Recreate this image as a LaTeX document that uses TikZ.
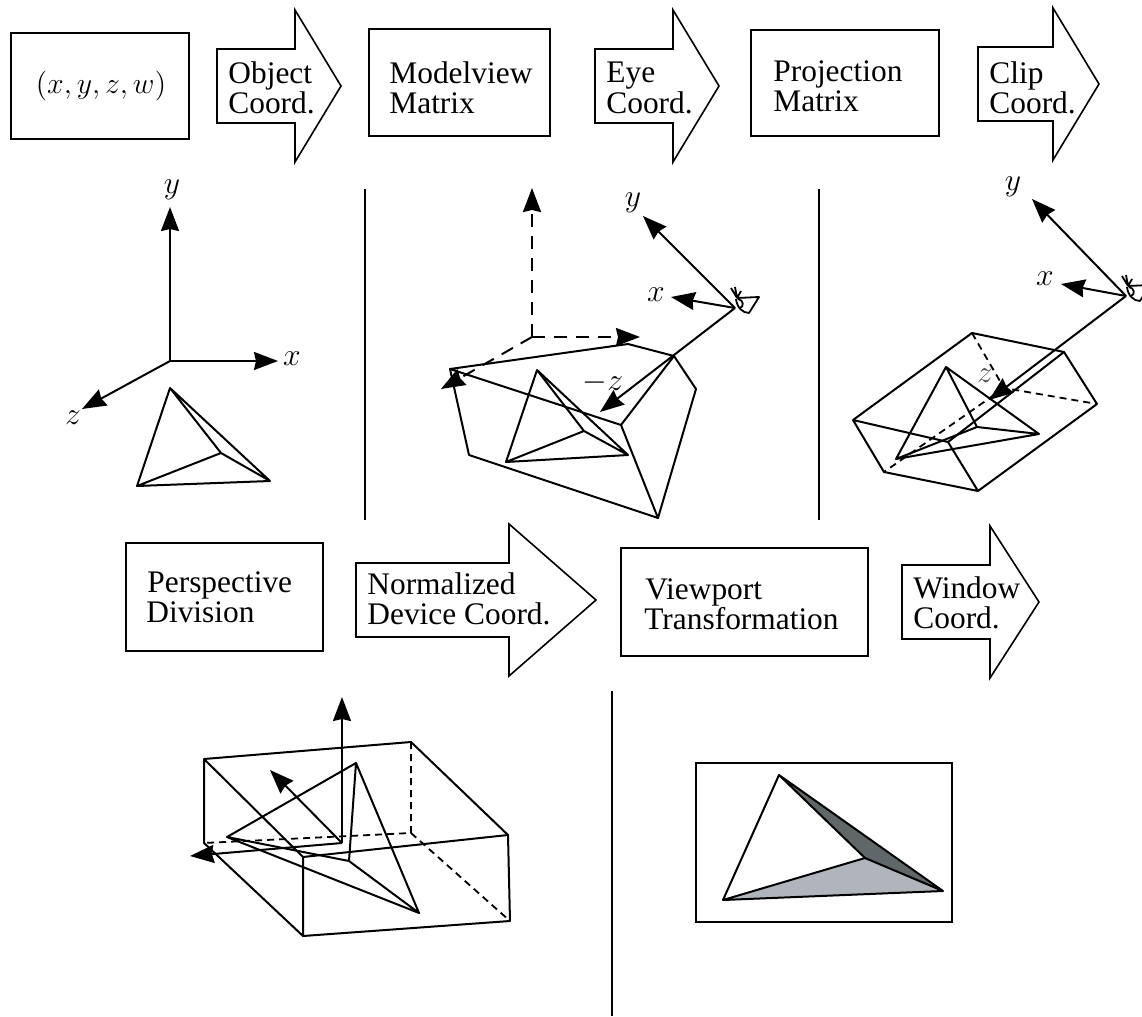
\documentclass[tikz,border=0pt]{standalone}
\usepackage{fontspec}
\setmainfont{Liberation Serif}
\usetikzlibrary{arrows.meta}
\definecolor{facedark}{HTML}{5F6769}
\definecolor{facelight}{HTML}{B0B5BB}

\begin{document}
\begin{tikzpicture}[
  x=0.5pt, y=-0.5pt,
  wire/.style={line width=1pt, line join=round},
  hidden/.style={line width=0.9pt, dash pattern=on 3.5pt off 2.5pt},
  hidaxis/.style={line width=1pt, dash pattern=on 6.5pt off 4.5pt, -{Stealth[length=12pt,width=9pt,inset=1pt]}},
  axis/.style={line width=1pt, -{Stealth[length=12pt,width=9pt,inset=1pt]}},
  stepbox/.style={line width=1pt},
  blockarrow/.style={line width=0.8pt, line join=miter},
  lbl/.style={anchor=west, inner sep=0pt, align=left, font=\fontsize{15.7}{15.2}\selectfont},
  mth/.style={inner sep=0pt, scale=1.1, font=\fontsize{14.4}{18}\selectfont},
  eyeball/.pic={
    \draw[line width=0.9pt, line join=round] (2,-10) -- (24,-11) -- (14,5)
      .. controls (8,5) and (2,0) .. (1,-9);
    \draw[line width=0.9pt] (2,-10) -- (-4,-20) (2,-10) -- (0,-21) (2,-10) -- (6,-17);
    \draw[line width=0.9pt] (3,-9) .. controls (9,-8) and (9,-1) .. (5,0);
  }]
  \useasboundingbox (0,0) rectangle (1142,1017);

  \draw[stepbox] (11,33) rectangle (189,139);
  \draw[stepbox] (369,29) rectangle (550,136);
  \draw[stepbox] (751,30) rectangle (939,136);
  \draw[stepbox] (126,543) rectangle (323,651);
  \draw[stepbox] (621,548) rectangle (868,656);

  \foreach \l/\h/\t/\c in {217/295/341/86, 595/673/719/86, 978/1053/1099/84, 356/509/596/600, 902/990/1039/602}
    \draw[blockarrow] (\l,\c-37) -- (\h,\c-37) -- (\h,\c-76) -- (\t,\c) -- (\h,\c+76) -- (\h,\c+37) -- (\l,\c+37) -- cycle;

  \node[mth, scale=0.94] (hom) at (101,86) {$(x,y,z,w)$};
  \node[lbl] (objcoord) at (228,88) {Object\\Coord.};
  \node[lbl] (modelview) at (389,88) {Modelview\\Matrix};
  \node[lbl] (eyecoord) at (606,88) {Eye\\Coord.};
  \node[lbl] (projection) at (773,86) {Projection\\Matrix};
  \node[lbl] (clipcoord) at (989,88) {Clip\\Coord.};
  \node[lbl] (perspective) at (146,597) {\hspace{0.5pt}Perspective\\Division};
  \node[lbl] (ndc) at (367,599) {Normalized\\Device Coord.};
  \node[lbl] (viewport) at (644,604) {\hspace{0.5pt}Viewport\\Transformation};
  \node[lbl] (wincoord) at (913,603) {Window\\Coord.};

  \draw[wire] (365,189) -- (365,520);
  \draw[wire] (819,189) -- (819,520);
  \draw[wire] (612,691) -- (612,1016);

  % object space
  \coordinate (oa) at (170,361);
  \draw[axis] (oa) -- (170,207);
  \draw[axis] (oa) -- (278,361);
  \draw[axis] (oa) -- (82,409);
  \node[mth] (ya) at (172,190) {$y$};
  \node[mth] (xa) at (292,359) {$x$};
  \node[mth] (za) at (73,418) {$z$};
  \draw[wire] (170,388) -- (137,486) -- (270,481) -- cycle (137,486) -- (221,453) -- (170,388) (221,453) -- (270,481);

  % eye space
  \coordinate (ob) at (532,337);
  \draw[hidaxis] (ob) -- (532,188);
  \draw[hidaxis] (ob) -- (640,337);
  \draw[hidaxis] (ob) -- (441,389);
  \coordinate (ec) at (735,308);
  \draw[axis] (ec) -- (643,216);
  \draw[axis] (ec) -- (671,297);
  \draw[axis] (ec) -- (600,412);
  \pic at (ec) {eyeball};
  \node[mth] (yb) at (633,203) {$y$};
  \node[mth] (xb) at (656,295) {$x$};
  \node[mth] (zb) at (603,383) {$-z$};
  \draw[wire] (450,369) -- (628,344) -- (674,356) -- (696,389) -- (658,518) -- (469,455) -- cycle
    (450,369) -- (621,425) -- (674,356) (621,425) -- (658,518);
  \draw[wire] (537,370) -- (506,462) -- (628,455) -- cycle (506,462) -- (584,431) -- (537,370) (584,431) -- (628,455);

  % clip space
  \coordinate (ed) at (1126,296);
  \draw[axis] (ed) -- (1032,199);
  \draw[axis] (ed) -- (1061,284);
  \draw[axis] (ed) -- (989,400);
  \pic at (ed) {eyeball};
  \node[mth] (yc) at (1013,187) {$y$};
  \node[mth] (xc) at (1045,279) {$x$};
  \node[mth, text=black!70] (zc) at (985,376) {$z$};
  \draw[hidden] (972,333) -- (1004,388) -- (1097,404) (1004,388) -- (884,472);
  \draw[wire] (853,420) -- (972,333) -- (1064,352) -- (1097,404) -- (978,491) -- (884,472) -- cycle
    (853,420) -- (948,442) -- (1064,352) (948,442) -- (978,491);
  \draw[wire] (946,367) -- (896,459) -- (1039,434) -- cycle (896,459) -- (977,427) -- (946,367) (977,427) -- (1039,434);

  % normalized device space
  \coordinate (oe) at (342,843);
  \draw[axis] (oe) -- (342,697);
  \draw[axis] (oe) -- (270,770);
  \draw[axis] (oe) -- (190,856);
  \draw[hidden] (411,742) -- (411,833) -- (204,843) (411,833) -- (510,921);
  \draw[wire] (204,759) -- (411,742) -- (508,835) -- (510,921) -- (303,936) -- (204,843) -- cycle
    (204,759) -- (303,857) -- (508,835) (303,857) -- (303,936);
  \draw[wire] (356,763) -- (227,837) -- (419,913) -- cycle (227,837) -- (349,861) -- (356,763) (349,861) -- (419,913);

  % window
  \draw[stepbox] (696,763) rectangle (952,922);
  \fill[facelight] (723,900) -- (865,858) -- (943,891) -- cycle;
  \fill[facedark] (779,775) -- (865,858) -- (943,891) -- cycle;
  \draw[wire] (779,775) -- (723,900) -- (943,891) -- cycle (723,900) -- (865,858) -- (779,775) (865,858) -- (943,891);
\end{tikzpicture}
\end{document}
